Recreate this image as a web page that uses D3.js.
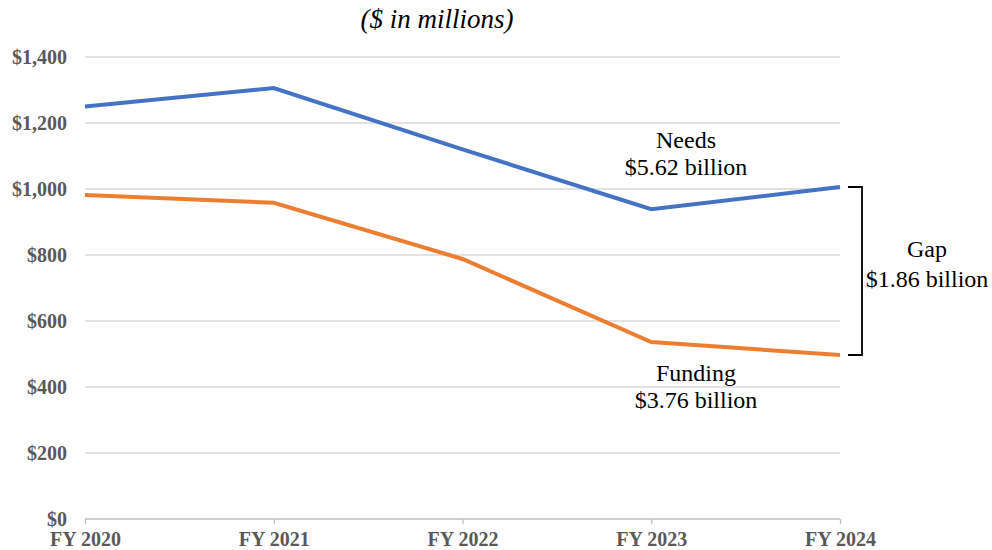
<!DOCTYPE html>
<html>
<head>
<meta charset="utf-8">
<script src="https://cdn.jsdelivr.net/npm/d3@7"></script>
<style>
  body { margin: 0; background: #fff; }
</style>
</head>
<body>
<svg></svg>
<script>
let years = ['FY 2020', 'FY 2021', 'FY 2022', 'FY 2023', 'FY 2024']
let needs = [1250, 1306, 1120, 939, 1006]
let funding = [982, 958, 788, 536, 497]
let yTicks = [0, 200, 400, 600, 800, 1000, 1200, 1400]

let width = 992
let height = 550
let plotLeft = 85
let plotRight = 840
let plotTop = 57
let plotBottom = 519
let serif = "'Liberation Serif', 'Times New Roman', Times, 'DejaVu Serif', serif"

let svg = d3.select('svg')
  .attr('width', width)
  .attr('height', height)

let xScale = d3.scalePoint()
  .domain(years)
  .range([plotLeft, plotRight])

let yScale = d3.scaleLinear()
  .domain([0, 1400])
  .range([plotBottom, plotTop])

let dollar = (v) => '$' + d3.format(',')(v)

// gridlines
svg.append('g')
  .selectAll('line')
  .data(yTicks.filter(d => d > 0))
  .enter()
  .append('line')
  .attr('x1', plotLeft)
  .attr('x2', plotRight)
  .attr('y1', d => yScale(d))
  .attr('y2', d => yScale(d))
  .attr('stroke', '#d9d9d9')
  .attr('stroke-width', 1.3)

// y labels
let yAxis = d3.axisLeft(yScale).tickValues(yTicks).tickFormat(dollar).tickSize(0).tickPadding(18)
svg.append('g')
  .attr('transform', 'translate(' + plotLeft + ',0)')
  .call(yAxis)
  .attr('font-family', serif)
  .call(g => g.select('.domain').remove())
  .selectAll('text')
  .attr('fill', '#595959')
  .attr('font-weight', 'bold')
  .attr('font-size', 20)

// x axis
let xAxis = d3.axisBottom(xScale).tickSizeOuter(0).tickSizeInner(5).tickPadding(8)
let xg = svg.append('g')
  .attr('transform', 'translate(0,' + plotBottom + ')')
  .call(xAxis)
  .attr('font-family', serif)
xg.select('.domain').attr('stroke', '#bfbfbf').attr('stroke-width', 1.3)
  .attr('d', 'M' + plotLeft + ',0H' + plotRight)
xg.selectAll('.tick line').attr('stroke', '#bfbfbf').attr('stroke-width', 1.3)
xg.selectAll('text')
  .attr('fill', '#595959')
  .attr('font-weight', 'bold')
  .attr('font-size', 20)

// lines
let line = d3.line()
  .x((d, i) => xScale(years[i]))
  .y(d => yScale(d))

svg.append('path')
  .datum(needs)
  .attr('d', line)
  .attr('fill', 'none')
  .attr('stroke', '#4472c4')
  .attr('stroke-width', 4)

svg.append('path')
  .datum(funding)
  .attr('d', line)
  .attr('fill', 'none')
  .attr('stroke', '#ed7d31')
  .attr('stroke-width', 4)

// subtitle
svg.append('text')
  .attr('x', 437)
  .attr('y', 28)
  .attr('text-anchor', 'middle')
  .attr('font-family', serif)
  .attr('font-style', 'italic')
  .attr('font-size', 27)
  .text('($ in millions)')

// annotations
let note = (x, y, gap, lines) => {
  let t = svg.append('text')
    .attr('x', x)
    .attr('y', y)
    .attr('text-anchor', 'middle')
    .attr('font-family', serif)
    .attr('font-size', 24)
    .attr('fill', '#000')
  lines.forEach((s, i) => {
    t.append('tspan').attr('x', x).attr('dy', i === 0 ? 0 : gap).text(s)
  })
}

let needsTotal = d3.sum(needs)
let fundingTotal = d3.sum(funding)
note(686, 148, 27, ['Needs', '$' + (needsTotal / 1000).toFixed(2) + ' billion'])
note(696, 381, 27, ['Funding', '$' + (fundingTotal / 1000).toFixed(2) + ' billion'])
note(927, 257, 30, ['Gap', '$' + ((needsTotal - fundingTotal) / 1000).toFixed(2) + ' billion'])

// bracket
let last = years.length - 1
let bx = 862
svg.append('path')
  .attr('d', 'M' + (bx - 14) + ',' + yScale(needs[last]) + 'H' + bx + 'V' + yScale(funding[last]) + 'H' + (bx - 14))
  .attr('fill', 'none')
  .attr('stroke', '#000')
  .attr('stroke-width', 1.8)
</script>
</body>
</html>
